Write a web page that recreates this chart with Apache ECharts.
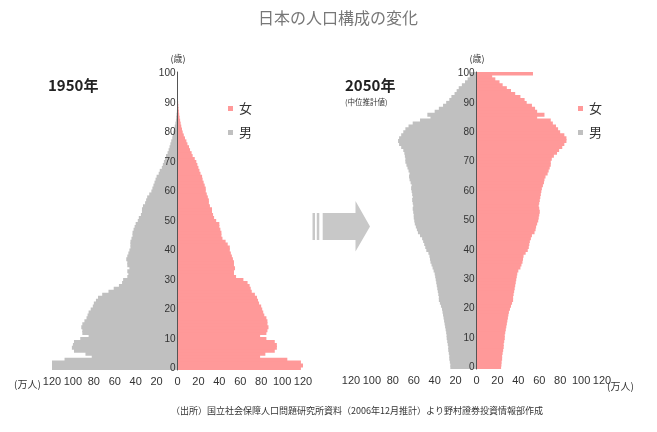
<!DOCTYPE html>
<html><head><meta charset="utf-8">
<script src="https://cdn.jsdelivr.net/npm/echarts@6/dist/echarts.min.js"></script>
<style>html,body{margin:0;padding:0;background:#fff}#c{width:657px;height:432px}</style>
</head><body><div id="c"></div>
<script>
// age categories 0..100
const ages = Array.from({length: 101}, (_, i) => String(i));

// 1950 (万人)
const male1950 = [121,128,127,108,82,88,99,101,100,99,
  93,85,91,91,92,91,89,87,86,85,
  83,81,80,78,76,72,66,61,56,53,
  52,48,47,48,46,48,48,49,48,47,
  46,45,45,45,44,43,43,42,41,40,
  38,37,35,34,34,33,31,30,29,27,
  25,24,23,22,21,20,18,17,15,14,
  13,12,11,9.5,8.5,7.6,6.8,6,5,4.5,
  4,3.2,2.6,2,1.5,1.2,0.9,0.6,0.4,0.3,
  0.2,0.15,0.1,0.1,0.1,0.05,0.05,0.05,0.05,0.05,
  0];
const female1950 = [118,121,118,105,79,84,93,95,95,93,
  85,79,85,86,87,86,86,85,83,82,
  81,80,78,77,76,74,71,70,69,67,
  63,56,54,54,55,54,54,53,52,51,
  50,50,48,46,43,42,42,41,40,40,
  37,35,34,33,33,31,30,30,29,28,
  27,27,26,25,24,23.5,22,21,20,19,
  18,16.5,14.5,13.5,12,11,9.5,8.5,7.2,6,
  5,4.3,3.6,3,2.5,2,1.6,1.3,1,0.8,
  0.6,0.4,0.3,0.2,0.1,0.1,0.1,0.1,0.05,0.05,
  0.05];

// 2050 medium-variant projection (万人)
const male2050 = [25,25,25.5,26,26,26.5,27,27,27.5,28,
  28.5,28.6,29,29.5,30,30.5,31,31.5,32,32.5,
  33,34,35,36,36,36.5,37,37.5,38,38.5,
  39,39.5,40,41,42,43,44,44.5,45,46,
  48,49,50,51,52,54,56,57,58,59,
  59.5,60,60,60.5,61,60.5,61,61.5,61,61.5,
  62,62.5,62,63,64,64.5,64,65,66,67,
  68,68,68.5,69,70,72,74,75,74,72,
  70,68,65,61,54,44,47,40,36,32,
  29,26,24,21,19,17,14,11,8.5,6.5,
  6];
const female2050 = [23.5,23.8,24,24.5,24.5,25,25.5,26,26,26.5,
  27,27,27.5,28,28.5,29,29.5,30,30.5,31,
  32,33,34,35,35,35.5,36,36.5,37,37.5,
  38,38.5,39,40,42,43,44,44.5,45,47,
  49,50,50.5,51,52,53,55.5,56.5,57,58,
  59,59.5,60,60.5,60,59.5,60,60.5,61,61.5,
  62,62.5,63.5,64.5,65,66,68,69,70,71,
  71,72,74,77,79,82,84,86,86,84,
  80,78,76,73,71,58,65,58,56,53,
  48,46,42,37,33,29,25,22,18,15,
  54];

const FONT = '"Liberation Sans", "Noto Sans CJK JP", sans-serif';
const JFONT = '"Noto Sans CJK JP", sans-serif';
const MALE = '#C0C0C0', FEMALE = '#FF9999', AX = '#555';
const GRID_W = 251;
const every10 = (i) => i % 10 === 0;

function xAxisOf(g) {
  return {
    type: 'value', gridIndex: g, min: -120, max: 120, interval: 20,
    axisLine: {lineStyle: {color: AX, width: 1}},
    axisTick: {inside: true, length: 3, lineStyle: {color: AX}},
    axisLabel: {formatter: v => String(Math.abs(v)), color: '#333', fontSize: 11, margin: 6, fontFamily: FONT},
    splitLine: {show: false}
  };
}
function yAxisOf(g) {
  return {
    type: 'category', gridIndex: g, data: ages, z: 10, position: 'left',
    offset: -GRID_W / 2,
    axisLine: {onZero: false, lineStyle: {color: AX, width: 1}},
    axisTick: {alignWithLabel: true, interval: every10, length: 3, lineStyle: {color: AX}},
    axisLabel: {interval: every10, color: '#333', fontSize: 10, margin: 2, fontFamily: FONT},
    splitLine: {show: false}
  };
}
function barOf(name, g, data, color, sign) {
  return {
    name, type: 'bar', xAxisIndex: g, yAxisIndex: g, stack: 's' + g,
    data: data.map(v => sign * v), barWidth: 4,
    itemStyle: {color},
    emphasis: {disabled: true}, silent: true, animation: false
  };
}
function legendOf(left) {
  return {
    data: ['女', '男'], left, top: 97, orient: 'vertical', icon: 'rect',
    itemWidth: 5, itemHeight: 5, itemGap: 11, selectedMode: false,
    textStyle: {fontSize: 13, color: '#333', fontFamily: JFONT, padding: [0, 0, 0, 1]}
  };
}

const chart = echarts.init(document.getElementById('c'), null, {renderer: 'canvas'});
chart.setOption({
  animation: false,
  backgroundColor: '#fff',
  grid: [
    {left: 52, top: 72, width: GRID_W, height: 298},
    {left: 351, top: 72, width: GRID_W, height: 297}
  ],
  xAxis: [xAxisOf(0), xAxisOf(1)],
  yAxis: [yAxisOf(0), yAxisOf(1)],
  legend: [legendOf(223), legendOf(573)],
  series: [
    barOf('男', 0, male1950, MALE, -1),
    barOf('女', 0, female1950, FEMALE, 1),
    barOf('男', 1, male2050, MALE, -1),
    barOf('女', 1, female2050, FEMALE, 1)
  ],
  color: [MALE, FEMALE],
  graphic: [
    {type: 'text', x: 338, y: 18, style: {text: '日本の人口構成の変化', font: '16px ' + JFONT, fill: '#777', align: 'center', verticalAlign: 'middle'}},
    {type: 'text', x: 178, y: 59, style: {text: '(歳)', font: '9px ' + JFONT, fill: '#333', align: 'center', verticalAlign: 'middle'}},
    {type: 'text', x: 477, y: 59, style: {text: '(歳)', font: '9px ' + JFONT, fill: '#333', align: 'center', verticalAlign: 'middle'}},
    {type: 'text', x: 14, y: 384, style: {text: '(万人)', font: '10px ' + JFONT, fill: '#333', align: 'left', verticalAlign: 'middle'}},
    {type: 'text', x: 607, y: 386, style: {text: '(万人)', font: '10px ' + JFONT, fill: '#333', align: 'left', verticalAlign: 'middle'}},
    {type: 'text', x: 48, y: 85, style: {text: '1950年', font: 'bold 15px ' + JFONT, fill: '#222', align: 'left', verticalAlign: 'middle'}},
    {type: 'text', x: 345, y: 85, style: {text: '2050年', font: 'bold 15px ' + JFONT, fill: '#222', align: 'left', verticalAlign: 'middle'}},
    {type: 'text', x: 345, y: 102, style: {text: '(中位推計値)', font: '7.5px ' + JFONT, fill: '#333', align: 'left', verticalAlign: 'middle'}},
    {type: 'text', x: 357, y: 411, style: {text: '（出所）国立社会保障人口問題研究所資料（2006年12月推計）より野村證券投資情報部作成', font: '9px ' + JFONT, fill: '#333', align: 'center', verticalAlign: 'middle'}},
    {type: 'rect', shape: {x: 312.5, y: 213, width: 2.5, height: 27}, style: {fill: '#C8C8C8'}},
    {type: 'rect', shape: {x: 316.8, y: 213, width: 2.5, height: 27}, style: {fill: '#C8C8C8'}},
    {type: 'polygon', shape: {points: [[322.7,213],[355.5,213],[355.5,201],[370,226.5],[355.5,251.5],[355.5,240],[322.7,240]]}, style: {fill: '#C8C8C8'}}
  ]
});
</script>
</body></html>
